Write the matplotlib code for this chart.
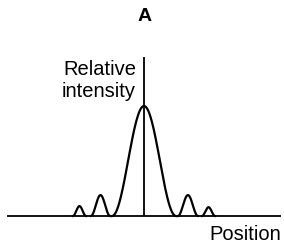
import numpy as np
import matplotlib
matplotlib.use("Agg")
import matplotlib.pyplot as plt

plt.rcParams['font.family'] = ['Liberation Sans', 'DejaVu Sans']

# Diffraction lobes: start / end positions and relative peak intensity
lobe_start = [-2.45, -1.83, -1.10, 1.17, 2.00]
lobe_end = [-2.00, -1.17, 1.10, 1.86, 2.45]
lobe_height = [0.09, 0.19, 1.00, 0.19, 0.08]

title = "A"
y_label = ["Relative", "intensity"]
x_label = "Position"

fig = plt.figure(figsize=(2.84, 2.48), dpi=100)
ax = fig.add_axes([0, 0, 1, 1])
ax.set_xlim(-144 / 29, 140 / 29)
ax.set_ylim(-32 / 110, 216 / 110)
ax.axis('off')

# axes lines
ax.plot([-4.72, 4.72], [0, 0], color='black', lw=1.3, solid_capstyle='butt')
ax.plot([0, 0], [0, 1.445], color='black', lw=1.3, solid_capstyle='butt')

for s, e, h in zip(lobe_start, lobe_end, lobe_height):
    c = (s + e) / 2
    hw = (e - s) / 2
    u = np.linspace(s, e, 200)
    ax.plot(u, h * np.cos(np.pi / 2 * (u - c) / hw) ** 2, color='black', lw=1.6)

ax.text(0.03, 1.7727, title, ha='center', va='baseline', fontsize=14, fontweight='bold')
ax.text(-0.276, 1.2818, y_label[0], ha='right', va='baseline', fontsize=14.5)
ax.text(-0.276, 1.0818, y_label[1], ha='right', va='baseline', fontsize=14.5)
ax.text(4.72, -0.218, x_label, ha='right', va='baseline', fontsize=14.5)

fig.savefig("out.png", dpi=100)
